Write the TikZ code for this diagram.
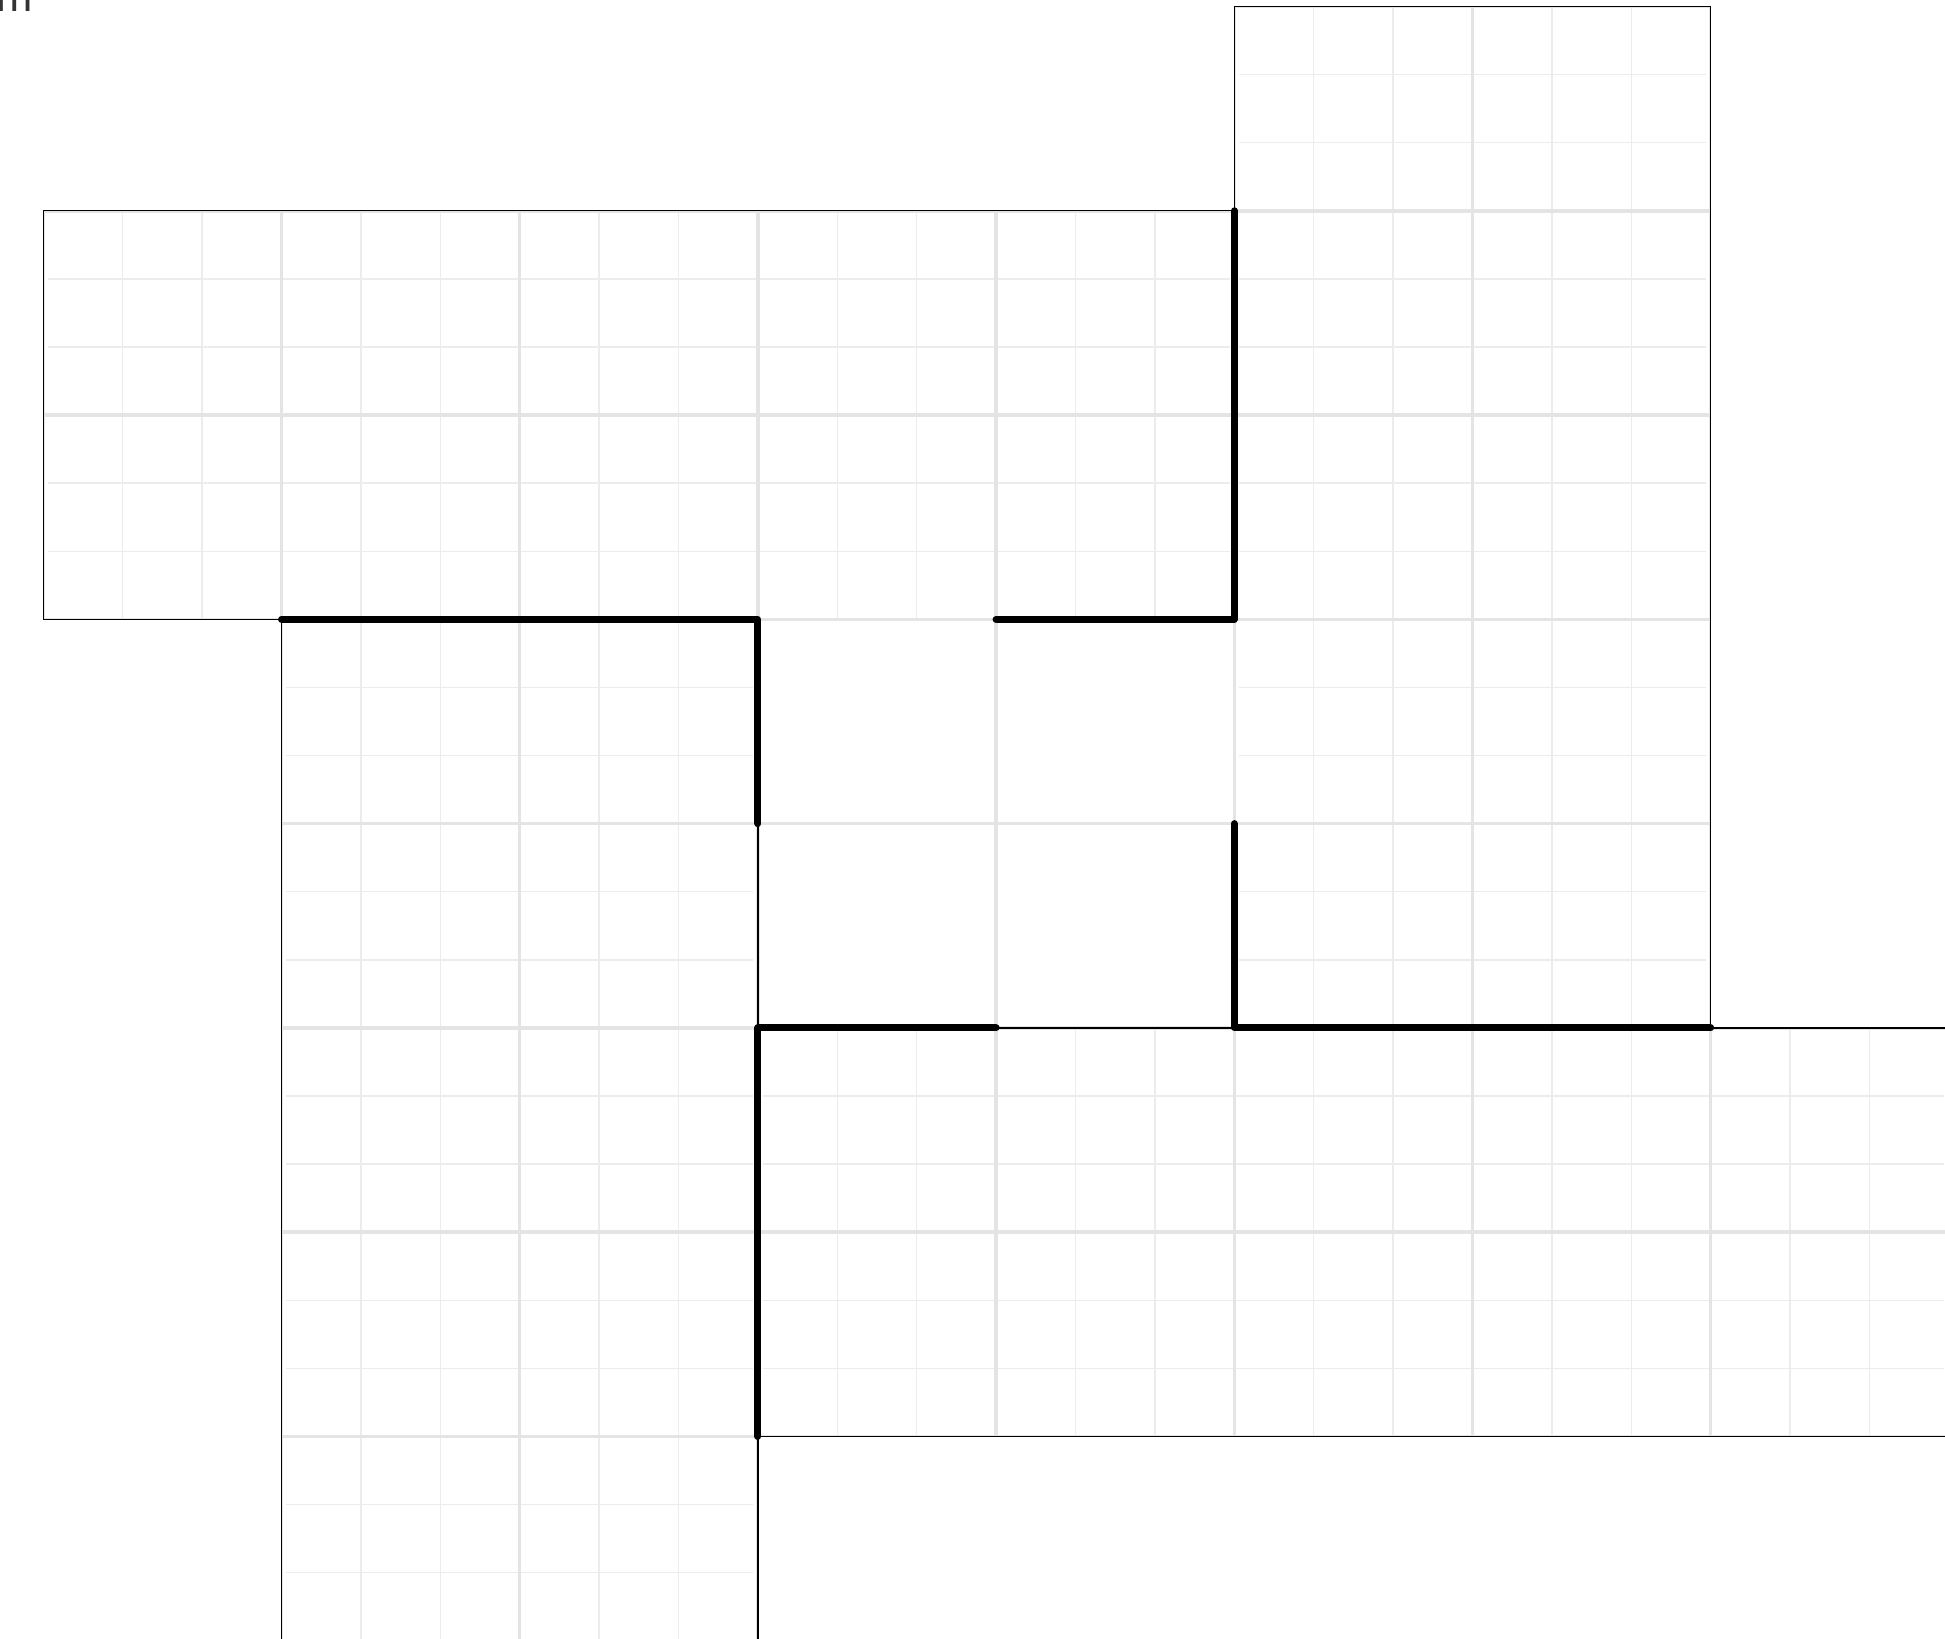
\documentclass[tikz,border=0pt]{standalone}
\usepackage{fontspec}
\setsansfont{Liberation Sans}
\definecolor{majorgray}{HTML}{E4E4E4}
\definecolor{minorgray}{HTML}{ECECEC}
\begin{document}
\begin{tikzpicture}[x=2.3816cm,y=2.0426cm,font=\sffamily,
  minor/.style={minorgray,line width=0.4pt},
  major/.style={majorgray,line width=1pt},
  outline/.style={black,line width=0.4pt},
  wall/.style={black,line width=2pt,line cap=round,line join=round}]
\useasboundingbox (-0.182,0.013) rectangle (7.984,8.032);
\node[anchor=base east,inner sep=0,text=black!80,font=\sffamily\fontsize{12.4}{14}\selectfont] (unit) at (-0.04,7.974) {m};
\foreach \xa/\ya/\xb/\yb in {0/5/5/7, 5/3/7/8, 1/0/3/5, 3/1/8/3}{
  \pgfmathtruncatemacro\nx{3*(\xb-\xa)-1}
  \pgfmathtruncatemacro\ny{3*(\yb-\ya)-1}
  \foreach \k in {1,...,\nx}
    \draw[minor] ({\xa+\k/3},\ya) -- ({\xa+\k/3},\yb);
  \foreach \k in {1,...,\ny}
    \draw[minor] ({\xa+0.02},{\ya+\k/3}) -- ({\xb-0.02},{\ya+\k/3});
}
\begin{scope}
  \clip (0,5) rectangle (5,7) (5,3) rectangle (7,8) (1,0) rectangle (3,5) (3,1) rectangle (8,3) (3,3) rectangle (5,5);
  \foreach \i in {0,...,8}{
    \draw[major] (\i,0) -- (\i,8);
    \draw[major] (0,\i) -- (8,\i);
  }
\end{scope}
\draw[outline] (5,7) -- (0,7) -- (0,5) -- (1,5) -- (1,0);
\draw[outline] (3,0) -- (3,1) -- (8,1);
\draw[outline] (8,3) -- (7,3) -- (7,8) -- (5,8) -- (5,7);
\draw[outline] (3,4) -- (3,3);
\draw[outline] (4,3) -- (5,3);
\draw[wall] (1,5) -- (3,5) -- (3,4);
\draw[wall] (4,5) -- (5,5) -- (5,7);
\draw[wall] (5,4) -- (5,3) -- (7,3);
\draw[wall] (4,3) -- (3,3) -- (3,1);
\end{tikzpicture}
\end{document}
